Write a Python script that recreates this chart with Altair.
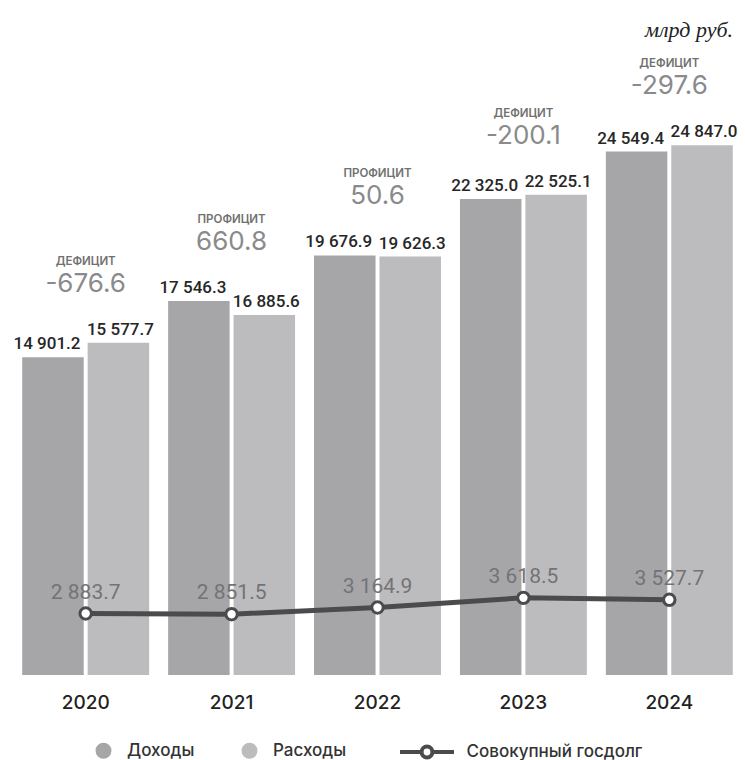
import altair as alt
import pandas as pd

years = ["2020", "2021", "2022", "2023", "2024"]
income = [14901.2, 17546.3, 19676.9, 22325.0, 24549.4]
expense = [15577.7, 16885.6, 19626.3, 22525.1, 24847.0]
balance = [-676.6, 660.8, 50.6, -200.1, -297.6]
debt = [2883.7, 2851.5, 3164.9, 3618.5, 3527.7]
series_names = ["Доходы", "Расходы"]
debt_name = "Совокупный госдолг"


def fmt(v):
    return f"{v:,.1f}".replace(",", " ")


rows = []
for i, y in enumerate(years):
    rows.append(dict(year=y, series=series_names[0], value=income[i]))
    rows.append(dict(year=y, series=series_names[1], value=expense[i]))
bars_df = pd.DataFrame(rows)
bars_df["label"] = bars_df["value"].map(fmt)

sum_df = pd.DataFrame({
    "year": years,
    "top": [max(a, b) for a, b in zip(income, expense)],
    "kind": ["ДЕФИЦИТ" if b < 0 else "ПРОФИЦИТ" for b in balance],
    "bal": [f"{b:.1f}" for b in balance],
})

debt_df = pd.DataFrame({
    "year": years,
    "debt": debt,
    "name": [debt_name] * len(years),
    "label": [fmt(d) for d in debt],
})

FONT = "Inter"
DARK = "#4b4b4d"

x_enc = alt.X(
    "year:N",
    sort=years,
    title=None,
    scale=alt.Scale(paddingInner=0.13, paddingOuter=0.07),
    axis=alt.Axis(labelAngle=0, domain=False, ticks=False, grid=False,
                  labelFontSize=19, labelFont=FONT, labelFontWeight=500,
                  labelColor="#222222", labelPadding=18),
)
y_scale = alt.Scale(domain=[0, 28000], nice=False, zero=True)
xoff_enc = alt.XOffset("series:N", sort=series_names,
                       scale=alt.Scale(paddingInner=0.06, paddingOuter=0))

bars = alt.Chart(bars_df).mark_bar().encode(
    x=x_enc,
    xOffset=xoff_enc,
    y=alt.Y("value:Q", scale=y_scale, axis=None, title=None),
    fill=alt.Fill(
        "series:N",
        sort=series_names,
        scale=alt.Scale(domain=series_names, range=["#a6a6a9", "#bcbcbf"]),
        legend=alt.Legend(
            title=None, orient="none", direction="horizontal",
            legendX=83, legendY=664, symbolType="circle", symbolSize=254,
            labelFont=FONT, labelFontSize=17, labelFontWeight=500,
            labelColor="#333333", labelOffset=15, columnPadding=46,
            padding=0, symbolStrokeWidth=0,
        ),
    ),
)


def bar_label(series, dx):
    return alt.Chart(bars_df).transform_filter(
        alt.datum.series == series
    ).mark_text(
        baseline="alphabetic", dy=-8, dx=dx, font="Roboto", fontSize=17,
        fontWeight=500, color="#262626",
    ).encode(
        x=x_enc,
        xOffset=xoff_enc,
        y=alt.Y("value:Q", scale=y_scale, axis=None),
        text="label:N",
    )


inc_text = bar_label(series_names[0], -6)
exp_text = bar_label(series_names[1], 2)

kind_text = alt.Chart(sum_df).mark_text(
    baseline="alphabetic", dy=-78, font=FONT, fontSize=11.5, fontWeight=600,
    color="#707070",
).encode(
    x=x_enc,
    y=alt.Y("top:Q", scale=y_scale, axis=None),
    text="kind:N",
)

bal_text = alt.Chart(sum_df).mark_text(
    baseline="alphabetic", dy=-51, font=FONT, fontSize=26, fontWeight=400,
    color="#8a8a8c",
).encode(
    x=x_enc,
    y=alt.Y("top:Q", scale=y_scale, axis=None),
    text="bal:N",
)

debt_line = alt.Chart(debt_df).mark_line(strokeWidth=5).encode(
    x=x_enc,
    y=alt.Y("debt:Q", scale=y_scale, axis=None),
    stroke=alt.Stroke(
        "name:N",
        scale=alt.Scale(domain=[debt_name], range=[DARK]),
        legend=alt.Legend(
            title=None, orient="none", direction="horizontal",
            legendX=399.5, legendY=658.5,
            symbolType="M-2,0H-0.4M0.4,0H2M0.4,0A0.4,0.4,0,1,1,-0.4,0A0.4,0.4,0,1,1,0.4,0",
            symbolSize=729, symbolStrokeWidth=4, symbolFillColor="white",
            labelFont=FONT, labelFontSize=17, labelFontWeight=500,
            labelColor="#333333", labelOffset=24, labelLimit=400, padding=0,
        ),
    ),
)

debt_pts = alt.Chart(debt_df).mark_point(
    filled=True, fill="white", stroke=DARK, strokeWidth=3, size=130, opacity=1,
).encode(
    x=x_enc,
    y=alt.Y("debt:Q", scale=y_scale, axis=None),
)

debt_text = alt.Chart(debt_df).mark_text(
    baseline="alphabetic", dy=-15, font="Roboto", fontSize=21, fontWeight=400,
    color="#737375",
).encode(
    x=x_enc,
    y=alt.Y("debt:Q", scale=y_scale, axis=None),
    text="label:N",
)

chart = alt.layer(
    bars, inc_text, exp_text, kind_text, bal_text, debt_line, debt_pts, debt_text
).properties(
    width=731,
    height=597,
    autosize="none",
    background="white",
    padding={"left": 12, "top": 78, "right": 2, "bottom": 85},
    title=alt.TitleParams(
        "млрд руб.", anchor="end", frame="group", font="Liberation Serif",
        fontStyle="italic", fontSize=22, fontWeight="normal", color="#222222",
        baseline="alphabetic", offset=9, dy=10, dx=-10,
    ),
).configure_view(strokeWidth=0)

chart.save("out.html", embed_options={"renderer": "svg", "actions": False})
